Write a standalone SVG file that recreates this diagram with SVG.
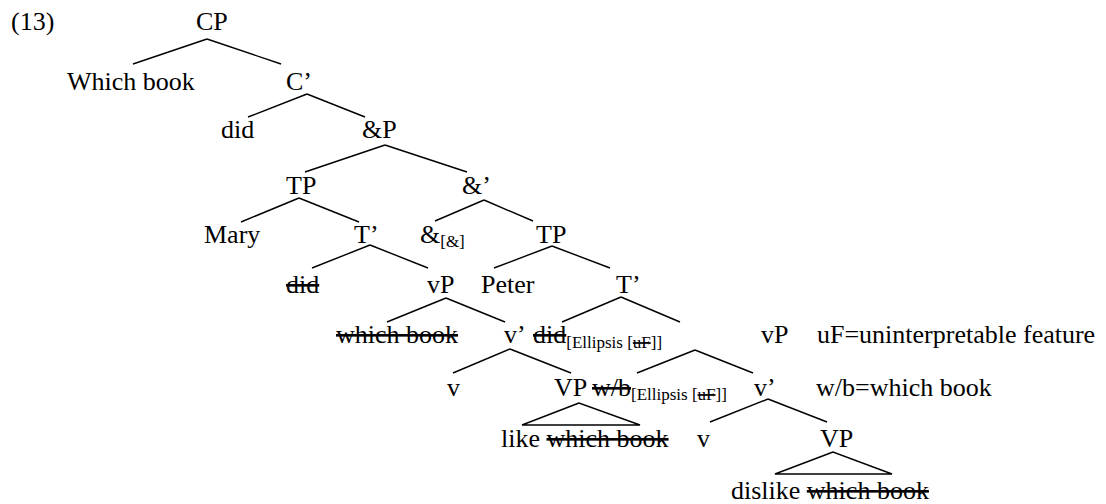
<svg xmlns="http://www.w3.org/2000/svg" width="1106" height="504" viewBox="0 0 1106 504">
  <style>
    text { font-family: "Liberation Serif", "Times New Roman", serif; font-size: 26px; fill: #000; }
    .sub { font-size: 17px; }
    .del { text-decoration: line-through; }
    #edges line, #edges polygon { stroke: #000; stroke-width: 1.4; fill: none; }
  </style>
  <rect width="1106" height="504" fill="#fff"/>

  <!-- example number -->
  <text id="exnum" x="11" y="30">(13)</text>

  <!-- tree branches -->
  <g id="edges">
    <line x1="207" y1="39" x2="133" y2="64"/>
    <line x1="207" y1="39" x2="281" y2="64"/>
    <line x1="307" y1="94" x2="248" y2="117"/>
    <line x1="307" y1="94" x2="365" y2="117"/>
    <line x1="385" y1="145" x2="305" y2="172"/>
    <line x1="385" y1="145" x2="467" y2="172"/>
    <line x1="299" y1="198" x2="241" y2="222"/>
    <line x1="299" y1="198" x2="359" y2="222"/>
    <line x1="484" y1="200" x2="435" y2="221"/>
    <line x1="484" y1="200" x2="533" y2="221"/>
    <line x1="370" y1="245" x2="312" y2="268"/>
    <line x1="370" y1="245" x2="428" y2="268"/>
    <line x1="552" y1="246" x2="494" y2="268"/>
    <line x1="552" y1="246" x2="610" y2="268"/>
    <line x1="446" y1="298" x2="387" y2="322"/>
    <line x1="446" y1="298" x2="505" y2="322"/>
    <line x1="621" y1="297" x2="562" y2="322"/>
    <line x1="621" y1="297" x2="680" y2="322"/>
    <line x1="510" y1="349" x2="453" y2="373"/>
    <line x1="510" y1="349" x2="571" y2="373"/>
    <line x1="695" y1="350" x2="637" y2="373"/>
    <line x1="695" y1="350" x2="753" y2="373"/>
    <polygon points="579,403 522,425 640,425"/>
    <line x1="768" y1="399" x2="710" y2="422"/>
    <line x1="768" y1="399" x2="827" y2="422"/>
    <polygon points="833,452 775,474 892,474"/>
  </g>

  <g id="n-cp"><text x="196" y="30">CP</text></g>
  <g id="n-whichbook"><text x="67" y="90">Which book</text></g>
  <g id="n-cbar"><text x="286" y="90">C’</text></g>
  <g id="n-did-c"><text x="221" y="138">did</text></g>
  <g id="n-andp"><text x="362" y="138">&amp;P</text></g>
  <g id="n-tp1"><text x="286" y="194">TP</text></g>
  <g id="n-andbar"><text x="462" y="194">&amp;’</text></g>
  <g id="n-mary"><text x="204" y="243">Mary</text></g>
  <g id="n-tbar1"><text x="354" y="243">T’</text></g>
  <g id="n-and"><text x="420" y="243">&amp;<tspan class="sub" dy="4">[&amp;]</tspan></text></g>
  <g id="n-tp2"><text x="536" y="243">TP</text></g>
  <g id="n-did-t1"><text x="286" y="293" class="del">did</text></g>
  <g id="n-vp1"><text x="427" y="293">vP</text></g>
  <g id="n-peter"><text x="481" y="293">Peter</text></g>
  <g id="n-tbar2"><text x="616" y="293">T’</text></g>
  <g id="n-wb1"><text x="336" y="343" class="del">which book</text></g>
  <g id="n-vbar1"><text x="504" y="343">v’</text></g>
  <g id="n-did-t2"><text x="533" y="343"><tspan class="del">did</tspan><tspan class="sub" dy="5">[Ellipsis [</tspan><tspan class="sub del">uF</tspan><tspan class="sub">]]</tspan></text></g>
  <g id="n-vp2"><text x="761" y="343">vP</text></g>
  <g id="note-uf"><text x="817" y="343">uF=uninterpretable feature</text></g>
  <g id="n-v1"><text x="447" y="396">v</text></g>
  <g id="n-vp-inner1"><text x="554" y="396">VP</text></g>
  <g id="n-wb2"><text x="592" y="396"><tspan class="del">w/b</tspan><tspan class="sub" dy="4">[Ellipsis [</tspan><tspan class="sub del">uF</tspan><tspan class="sub">]]</tspan></text></g>
  <g id="n-vbar2"><text x="754" y="396">v’</text></g>
  <g id="note-wb"><text x="816" y="396">w/b=which book</text></g>
  <g id="n-like"><text x="501" y="447">like <tspan class="del">which book</tspan></text></g>
  <g id="n-v2"><text x="697" y="447">v</text></g>
  <g id="n-vp-inner2"><text x="820" y="447">VP</text></g>
  <g id="n-dislike"><text x="731" y="499">dislike <tspan class="del">which book</tspan></text></g>
</svg>
